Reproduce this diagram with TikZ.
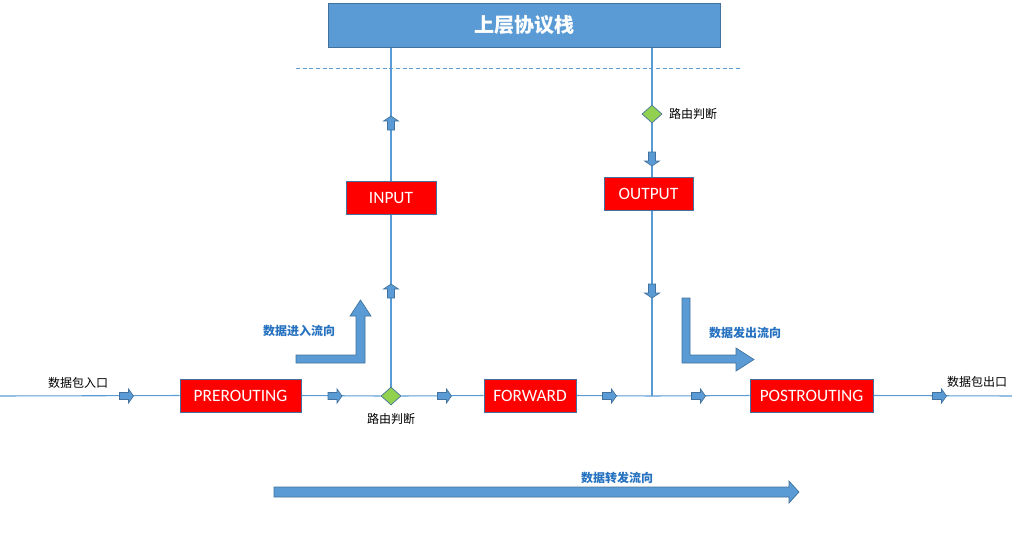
\documentclass[tikz,border=0pt]{standalone}
\usepackage{fontspec}
\setmainfont{Carlito}
\newfontfamily\cjk{Noto Sans CJK SC}
\usetikzlibrary{shapes.geometric,backgrounds}
\definecolor{lblue}{HTML}{5B9BD5}
\definecolor{dblue}{HTML}{41719C}
\definecolor{tblue}{HTML}{2672C0}
\definecolor{lgreen}{HTML}{92D050}
\newcommand\pxu[1]{#1*0.75pt}
\tikzset{
  conn/.style={draw=lblue, line width=0.8pt},
  hookbox/.style={draw=dblue, fill=red, text=white, line width=0.6pt, inner sep=0pt,
    font=\fontsize{13}{15}\selectfont, minimum height=\pxu{33}},
  decide/.style={diamond, draw=dblue, fill=lgreen, line width=0.5pt, inner sep=0pt,
    minimum width=\pxu{20}, minimum height=\pxu{18}},
  flowlbl/.style={text=tblue, font=\cjk\bfseries\fontsize{9}{11}\selectfont, inner sep=0pt},
  plainlbl/.style={text=black, font=\cjk\fontsize{9}{11}\selectfont, inner sep=0pt},
  blockarrow/.style={fill=lblue, draw=dblue, line width=0.5pt},
  rarr/.pic={\path[blockarrow] (-7,-3.5) -- (2,-3.5) -- (2,-7) -- (7,0) -- (2,7) -- (2,3.5) -- (-7,3.5) -- cycle;},
  uarr/.pic={\path[blockarrow] (-3.5,7) -- (-3.5,-2) -- (-7.5,-2) -- (0,-7) -- (7.5,-2) -- (3.5,-2) -- (3.5,7) -- cycle;},
  darr/.pic={\path[blockarrow] (-3.5,-7) -- (-3.5,2) -- (-7.5,2) -- (0,7) -- (7.5,2) -- (3.5,2) -- (3.5,-7) -- cycle;},
}
\begin{document}
\begin{tikzpicture}[x=0.75pt,y=-0.75pt]
\useasboundingbox (0,0) rectangle (1012,533);

% nodes
\node[draw=dblue, fill=lblue, line width=0.7pt, minimum width=\pxu{392}, minimum height=\pxu{44},
  inner sep=0pt, text=white, font=\cjk\bfseries\fontsize{15}{18}\selectfont] (top) at (524,25) {上层协议栈};
\node[hookbox, minimum width=\pxu{90}] (inp) at (391,198) {INPUT};
\node[hookbox, minimum width=\pxu{89}] (outp) at (648.5,193.5) {OUTPUT};
\node[hookbox, minimum width=\pxu{121}] (pre) at (240.5,395.5) {PREROUTING};
\node[hookbox, minimum width=\pxu{92}] (fwd) at (530,395.5) {FORWARD};
\node[hookbox, minimum width=\pxu{123}] (post) at (811.5,395.5) {POSTROUTING};
\node[decide] (d1) at (391,396) {};
\node[decide] (d2) at (652,114) {};
\coordinate (ein) at (0,396);
\coordinate (eout) at (1012,396);
\coordinate (jn) at (652,396);
\coordinate (dl) at (296,68);
\coordinate (dr) at (740,68);

% connectors behind the nodes
\begin{scope}[on background layer]
\path[conn] (ein) -- (pre.west);
\path[conn] (pre.east) -- (d1.west);
\path[conn] (d1.east) -- (fwd.west);
\path[conn] (fwd.east) -- (jn) -- (post.west);
\path[conn] (post.east) -- (eout);
\path[conn] (d1.north) -- (inp.south);
\path[conn] (inp.north) -- (top.south -| inp.north);
\path[conn] (top.south -| d2) -- (d2.north);
\path[conn] (d2.south) -- (d2 |- outp.north);
\path[conn] (d2 |- outp.south) -- (jn);
\draw[lblue, line width=0.6pt, dash pattern=on 3pt off 2pt] (dl) -- (dr);
\end{scope}

% small block arrows
\pic at (126.5,396) {rarr};
\pic at (335,396) {rarr};
\pic at (444.5,396) {rarr};
\pic at (609.5,396) {rarr};
\pic at (698.5,396) {rarr};
\pic at (939.5,396) {rarr};
\pic at (391,123) {uarr};
\pic at (391,291) {uarr};
\pic at (652,159) {darr};
\pic at (652,291) {darr};

% big flow arrows
\path[blockarrow] (296,355) -- (356,355) -- (356,316) -- (350,316) -- (360.5,300) -- (371,316) -- (365,316) -- (365,363) -- (296,363) -- cycle;
\path[blockarrow] (682,298) -- (690,298) -- (690,355) -- (736,355) -- (736,348) -- (754,359.5) -- (736,371) -- (736,363) -- (682,363) -- cycle;
\path[blockarrow] (274,487) -- (789,487) -- (789,481) -- (799,492) -- (789,503) -- (789,497) -- (274,497) -- cycle;

% labels
\node[flowlbl] (lin) at (299,331) {数据进入流向};
\node[flowlbl] (lout) at (745,333) {数据发出流向};
\node[flowlbl] (lfwd) at (617,478) {数据转发流向};
\node[plainlbl] (r1) at (391,419) {路由判断};
\node[plainlbl] (r2) at (693,114) {路由判断};
\node[plainlbl] (pin) at (78,383) {数据包入口};
\node[plainlbl] (pout) at (977,382) {数据包出口};
\end{tikzpicture}
\end{document}
